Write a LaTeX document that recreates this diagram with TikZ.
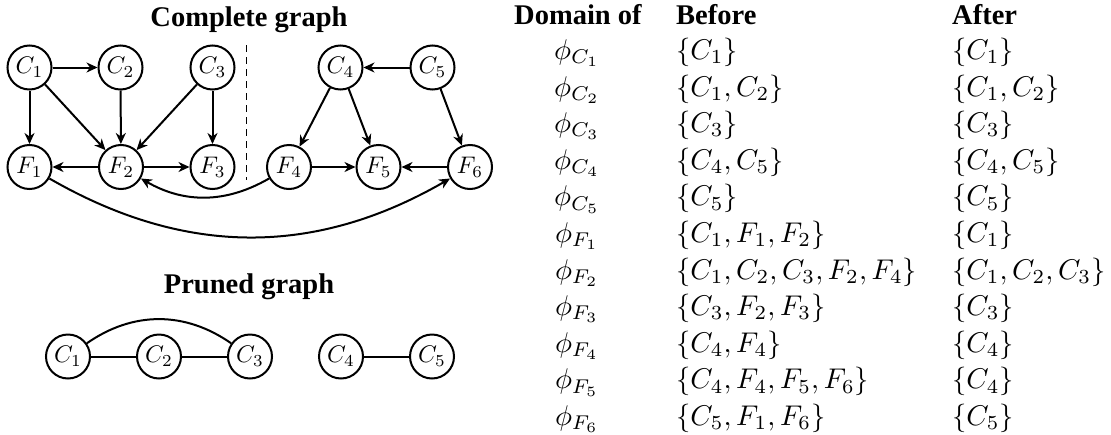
\documentclass[tikz,border=0pt]{standalone}
\usepackage[no-math]{fontspec}
\newfontfamily\titlefont{Liberation Serif}
\usetikzlibrary{arrows.meta}
\newcommand{\nm}[1]{\scalebox{2.4}{$#1$}}
\newcommand{\tm}[1]{\scalebox{2.85}{$#1$}}
\begin{document}
\begin{tikzpicture}[x=1pt,y=-1pt,
  vnode/.style={circle,draw,line width=2pt,minimum size=44pt,inner sep=0pt},
  edge/.style={line width=2pt},
  arr/.style={edge,-{Stealth[length=11pt,width=10pt,inset=3.5pt]}},
  ttl/.style={anchor=base,inner sep=0pt,font=\titlefont\fontsize{28.5}{32}\selectfont\bfseries},
  hdr/.style={anchor=base west,inner sep=0pt,font=\titlefont\fontsize{28.5}{32}\selectfont\bfseries},
  cellc/.style={anchor=base,inner sep=0pt},
  cellw/.style={anchor=base west,inner sep=0pt}]
\useasboundingbox (0,0) rectangle (1111,434);

% titles
\node[ttl] (t1) at (249,26) {Complete graph};
\node[ttl] (t2) at (249,293) {Pruned graph};

% complete graph nodes
\node[vnode] (C1) at (29.5,67.5) {\nm{C_1}};
\node[vnode] (C2) at (120.5,67.5) {\nm{C_2}};
\node[vnode] (C3) at (212.5,67.5) {\nm{C_3}};
\node[vnode] (C4) at (340.5,67.5) {\nm{C_4}};
\node[vnode] (C5) at (432.5,67.5) {\nm{C_5}};
\node[vnode] (F1) at (29.5,167) {\nm{F_1}};
\node[vnode] (F2) at (121,167) {\nm{F_2}};
\node[vnode] (F3) at (212.5,167) {\nm{F_3}};
\node[vnode] (F4) at (289,167) {\nm{F_4}};
\node[vnode] (F5) at (378.5,167) {\nm{F_5}};
\node[vnode] (F6) at (470,167) {\nm{F_6}};

\coordinate (d1) at (246.5,45);
\coordinate (d2) at (246.5,180);
\draw[line width=1.6pt,dash pattern=on 7pt off 5pt] (d1) -- (d2);

\draw[arr] (C1) -- (C2);
\draw[arr] (C1) -- (F1);
\draw[arr] (C1) -- (F2);
\draw[arr] (C2) -- (F2);
\draw[arr] (C3) -- (F2);
\draw[arr] (C3) -- (F3);
\draw[arr] (F2) -- (F1);
\draw[arr] (F2) -- (F3);
\draw[arr] (F4) to[bend left=30] (F2);
\draw[arr] (F1) to[bend right=30] (F6);
\draw[arr] (C4) -- (F4);
\draw[arr] (C4) -- (F5);
\draw[arr] (C5) -- (C4);
\draw[arr] (C5) -- (F6);
\draw[arr] (F4) -- (F5);
\draw[arr] (F6) -- (F5);

% pruned graph
\node[vnode] (P1) at (68,356.5) {\nm{C_1}};
\node[vnode] (P2) at (159,356.5) {\nm{C_2}};
\node[vnode] (P3) at (250,356.5) {\nm{C_3}};
\node[vnode] (P4) at (341,356.5) {\nm{C_4}};
\node[vnode] (P5) at (432,356.5) {\nm{C_5}};
\draw[edge] (P1) -- (P2);
\draw[edge] (P2) -- (P3);
\draw[edge] (P1) to[bend left=35] (P3);
\draw[edge] (P4) -- (P5);

% table
\node[hdr] (h1) at (514,24.5) {Domain of};
\node[hdr] (h2) at (676,24.5) {Before};
\node[hdr] (h3) at (952,24.5) {After};

\foreach \i/\p/\b/\a in {
  0/C_1/{\{C_1\}}/{\{C_1\}},
  1/C_2/{\{C_1,C_2\}}/{\{C_1,C_2\}},
  2/C_3/{\{C_3\}}/{\{C_3\}},
  3/C_4/{\{C_4,C_5\}}/{\{C_4,C_5\}},
  4/C_5/{\{C_5\}}/{\{C_5\}},
  5/F_1/{\{C_1,F_1,F_2\}}/{\{C_1\}},
  6/F_2/{\{C_1,C_2,C_3,F_2,F_4\}}/{\{C_1,C_2,C_3\}},
  7/F_3/{\{C_3,F_2,F_3\}}/{\{C_3\}},
  8/F_4/{\{C_4,F_4\}}/{\{C_4\}},
  9/F_5/{\{C_4,F_4,F_5,F_6\}}/{\{C_4\}},
  10/F_6/{\{C_5,F_1,F_6\}}/{\{C_5\}}} {
  \node[cellc] (phi\i) at (577,59.5+36.6*\i) {\tm{\phi_{\p}}};
  \node[cellw] (bef\i) at (676,59.5+36.6*\i) {\tm{\b}};
  \node[cellw] (aft\i) at (952,59.5+36.6*\i) {\tm{\a}};
}
\end{tikzpicture}
\end{document}
